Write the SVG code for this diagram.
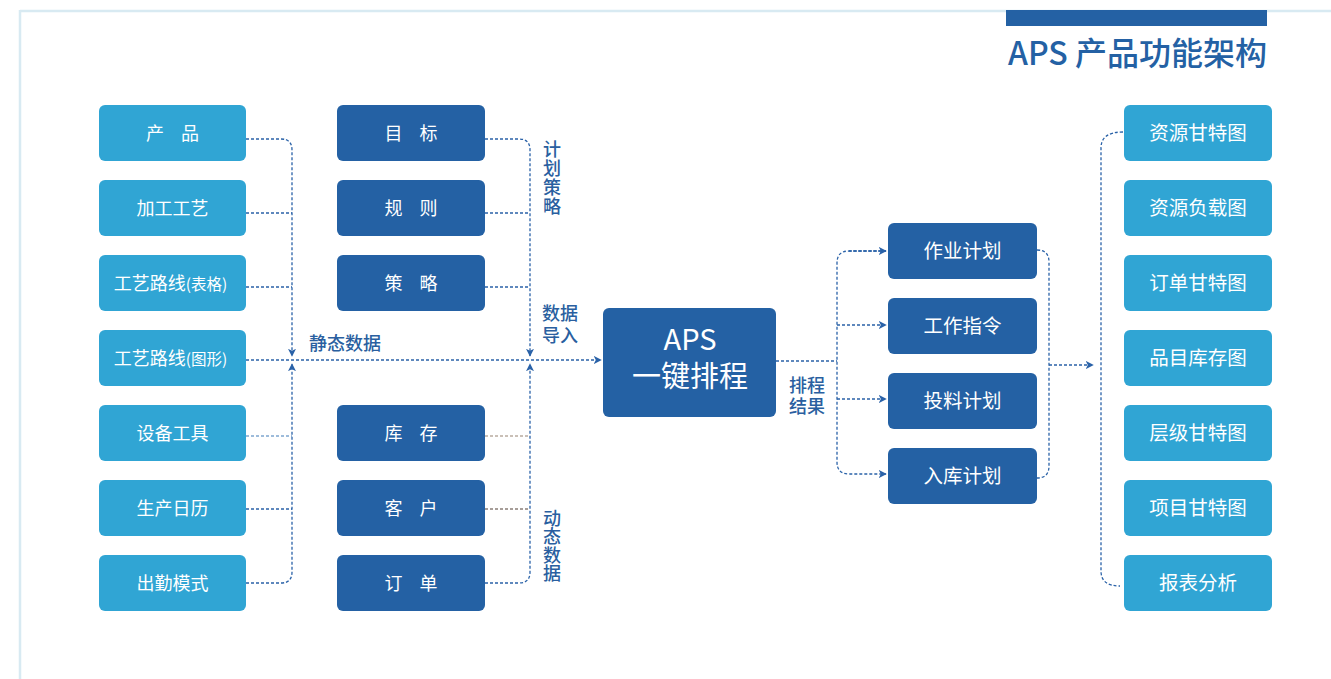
<svg xmlns="http://www.w3.org/2000/svg" width="1331" height="679" viewBox="0 0 1331 679">
<defs>
<style>
text{font-family:"Noto Sans CJK SC","Noto Sans",sans-serif;}
.lb{fill:#30a5d4;}
.db{fill:#2461a4;}
.bt{fill:#ffffff;font-size:18px;text-anchor:middle;}
.bt2{fill:#ffffff;font-size:19.5px;text-anchor:middle;}
.lbl{fill:#2a5fa0;font-size:18px;font-weight:500;}
.vt{writing-mode:vertical-rl;text-orientation:upright;}
.c{fill:none;stroke:#2a62a8;stroke-width:1.3;stroke-dasharray:3 2;}
.c2{fill:none;stroke:#7fa6cf;stroke-width:1.3;stroke-dasharray:3 2;}
.c3{fill:none;stroke:#b9aca0;stroke-width:1.3;stroke-dasharray:3 2;}
.c4{fill:none;stroke:#8a7f78;stroke-width:1.3;stroke-dasharray:3 2;}
.sp{word-spacing:13px;}
</style>
<marker id="ah" viewBox="0 0 10 10" refX="9" refY="5" markerWidth="8" markerHeight="8" markerUnits="userSpaceOnUse" orient="auto">
<path d="M0,0 L10,5 L0,10 L2.5,5 z" fill="#2a62a8"/>
</marker>
</defs>
<rect width="1331" height="679" fill="#ffffff"/>
<g id="frame">
<line x1="20" y1="11" x2="1331" y2="11" stroke="#d8eaf2" stroke-width="2.5"/>
<line x1="20" y1="10" x2="20" y2="679" stroke="#d8eaf2" stroke-width="2.5"/>
</g>
<g id="title">
<rect x="1006" y="10" width="261" height="16" fill="#2461a4"/>
<text x="1267" y="65" text-anchor="end" font-size="32" font-weight="500" fill="#2461a4">APS 产品功能架构</text>
</g>

<g id="connectors">
<path class="c" d="M246,139 H281 Q292,139 292,150 V356" marker-end="url(#ah)"/>
<path class="c" d="M246,213 H292"/>
<path class="c" d="M246,287 H292"/>
<path class="c" d="M246,360 H601" marker-end="url(#ah)"/>
<path class="c2" d="M246,436 H292"/>
<path class="c" d="M246,509 H292"/>
<path class="c" d="M246,583 H281 Q292,583 292,572 V364" marker-end="url(#ah)"/>
<path class="c" d="M485,139 H519 Q530,139 530,150 V356" marker-end="url(#ah)"/>
<path class="c" d="M485,213 H530"/>
<path class="c" d="M485,287 H530"/>
<path class="c3" d="M485,436 H530"/>
<path class="c4" d="M485,509 H530"/>
<path class="c" d="M485,583 H519 Q530,583 530,572 V364" marker-end="url(#ah)"/>
<path class="c" d="M776,361 H837"/>
<path class="c" d="M886,251 H849 Q837,251 837,263 V462 Q837,474 849,474 H886" marker-end="url(#ah)"/>
<path class="c" d="M849,251 H886" marker-end="url(#ah)"/>
<path class="c" d="M837,325 H886" marker-end="url(#ah)"/>
<path class="c" d="M837,399 H886" marker-end="url(#ah)"/>
<path class="c" d="M1037,250 Q1049,250 1049,262 V466 Q1049,478 1037,478"/>
<path class="c" d="M1049,365 H1093" marker-end="url(#ah)"/>
<path class="c" d="M1123,132 Q1101,132 1101,148 V571 Q1101,586 1120,586"/>
</g>

<g id="n-product"><rect class="lb" x="99" y="105" width="147" height="56" rx="6"/><text class="bt sp" x="172.5" y="139.5">产 品</text></g>
<g id="n-process"><rect class="lb" x="99" y="180" width="147" height="56" rx="6"/><text class="bt" x="172.5" y="214.5">加工工艺</text></g>
<g id="n-route-table"><rect class="lb" x="99" y="255" width="147" height="56" rx="6"/><text class="bt" x="170.5" y="289.5">工艺路线<tspan font-size="15.5">(表格)</tspan></text></g>
<g id="n-route-graph"><rect class="lb" x="99" y="330" width="147" height="56" rx="6"/><text class="bt" x="170.5" y="364.5">工艺路线<tspan font-size="15.5">(图形)</tspan></text></g>
<g id="n-equip"><rect class="lb" x="99" y="405" width="147" height="56" rx="6"/><text class="bt" x="172.5" y="439.5">设备工具</text></g>
<g id="n-calendar"><rect class="lb" x="99" y="480" width="147" height="56" rx="6"/><text class="bt" x="172.5" y="514.5">生产日历</text></g>
<g id="n-attend"><rect class="lb" x="99" y="555" width="147" height="56" rx="6"/><text class="bt" x="172.5" y="589.5">出勤模式</text></g>

<g id="n-goal"><rect class="db" x="337" y="105" width="148" height="56" rx="6"/><text class="bt sp" x="411" y="139.5">目 标</text></g>
<g id="n-rule"><rect class="db" x="337" y="180" width="148" height="56" rx="6"/><text class="bt sp" x="411" y="214.5">规 则</text></g>
<g id="n-strategy"><rect class="db" x="337" y="255" width="148" height="56" rx="6"/><text class="bt sp" x="411" y="289.5">策 略</text></g>
<g id="n-stock"><rect class="db" x="337" y="405" width="148" height="56" rx="6"/><text class="bt sp" x="411" y="439.5">库 存</text></g>
<g id="n-customer"><rect class="db" x="337" y="480" width="148" height="56" rx="6"/><text class="bt sp" x="411" y="514.5">客 户</text></g>
<g id="n-order"><rect class="db" x="337" y="555" width="148" height="56" rx="6"/><text class="bt sp" x="411" y="589.5">订 单</text></g>

<g id="labels">
<text class="lbl vt" x="552" y="140" letter-spacing="1">计划策略</text>
<text class="lbl" x="542" y="319.5"><tspan x="542">数据</tspan><tspan x="542" dy="22">导入</tspan></text>
<text class="lbl" x="309" y="349.5">静态数据</text>
<text class="lbl vt" x="552" y="509" letter-spacing="0.4">动态数据</text>
<text class="lbl" x="789" y="391.5"><tspan x="789">排程</tspan><tspan x="789" dy="21">结果</tspan></text>
</g>

<g id="n-aps"><rect class="db" x="603" y="308" width="173" height="109" rx="6"/>
<text x="690" y="350" text-anchor="middle" font-size="29" fill="#ffffff">APS</text>
<text x="690" y="387" text-anchor="middle" font-size="29" fill="#ffffff">一键排程</text></g>

<g id="n-job"><rect class="db" x="888" y="223" width="149" height="56" rx="6"/><text class="bt2" x="962.5" y="258">作业计划</text></g>
<g id="n-instr"><rect class="db" x="888" y="298" width="149" height="56" rx="6"/><text class="bt2" x="962.5" y="333">工作指令</text></g>
<g id="n-feed"><rect class="db" x="888" y="373" width="149" height="56" rx="6"/><text class="bt2" x="962.5" y="408">投料计划</text></g>
<g id="n-store"><rect class="db" x="888" y="448" width="149" height="56" rx="6"/><text class="bt2" x="962.5" y="483">入库计划</text></g>

<g id="n-res-gantt"><rect class="lb" x="1124" y="105" width="148" height="56" rx="6"/><text class="bt2" x="1198" y="140">资源甘特图</text></g>
<g id="n-res-load"><rect class="lb" x="1124" y="180" width="148" height="56" rx="6"/><text class="bt2" x="1198" y="215">资源负载图</text></g>
<g id="n-order-gantt"><rect class="lb" x="1124" y="255" width="148" height="56" rx="6"/><text class="bt2" x="1198" y="290">订单甘特图</text></g>
<g id="n-item-stock"><rect class="lb" x="1124" y="330" width="148" height="56" rx="6"/><text class="bt2" x="1198" y="365">品目库存图</text></g>
<g id="n-level-gantt"><rect class="lb" x="1124" y="405" width="148" height="56" rx="6"/><text class="bt2" x="1198" y="440">层级甘特图</text></g>
<g id="n-proj-gantt"><rect class="lb" x="1124" y="480" width="148" height="56" rx="6"/><text class="bt2" x="1198" y="515">项目甘特图</text></g>
<g id="n-report"><rect class="lb" x="1124" y="555" width="148" height="56" rx="6"/><text class="bt2" x="1198" y="590">报表分析</text></g>
</svg>
